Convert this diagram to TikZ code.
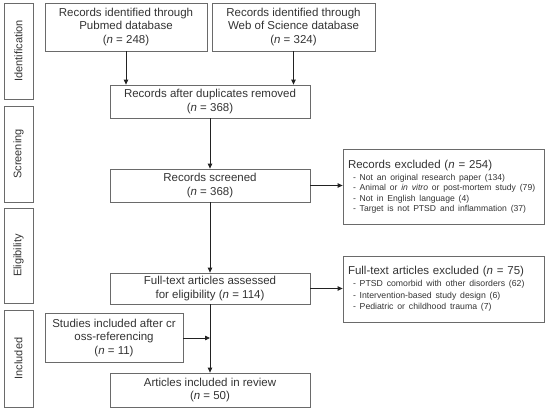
\documentclass[tikz,border=0pt]{standalone}
\usepackage{fontspec}
\setmainfont{Liberation Sans}
\usetikzlibrary{arrows.meta,calc}
\definecolor{frame}{HTML}{6A6A6A}
\definecolor{ink}{HTML}{333333}
\definecolor{wire}{HTML}{222222}
\newcommand{\Mid}{210}
\newcommand{\Left}{4}
\newcommand{\Side}{29}

\begin{document}
\begin{tikzpicture}[x=1pt, y=-1pt, text=ink,
    stagebox/.style={draw=frame, line width=0.8pt, align=center, inner sep=2pt,
      font=\fontsize{11.5}{13.4}\selectfont},
    phasebox/.style={draw=frame, line width=0.8pt, rotate=90, inner sep=0pt,
      minimum height=\Side, font=\fontsize{11}{13}\selectfont},
    exclbox/.style={draw=frame, line width=0.8pt, align=left, inner xsep=5pt,
      text width=191pt, minimum width=201, font=\fontsize{11.5}{13.4}\selectfont},
    flow/.style={wire, line width=0.8pt, -{Triangle[length=5pt, width=4.5pt]}},
  ]
\useasboundingbox (0,0) rectangle (550,410);

% --- Phases down the left side ------------------------------------------------------------
\foreach \name/\y/\len/\txt in {ident/51/96/Identification, screen/154/96/Screening,
    elig/255.5/95/Eligibility, incl/358.5/97/Included} {
  \node[phasebox, minimum width=\len] (phase-\name) at (\Left+\Side/2,\y) {\txt};
}

% --- The flow of records ----------------------------------------------------------------------
\node[stagebox, minimum width=162, minimum height=48] (pubmed) at (126,27)
  {Records identified through\\Pubmed database\\(\textit{n} = 248)};
\node[stagebox, minimum width=163, minimum height=48] (wos) at (293.5,27)
  {Records identified through\\Web of Science database\\(\textit{n} = 324)};
\node[stagebox, minimum width=200, minimum height=33] (dedup) at (\Mid,101.5)
  {Records after duplicates removed\\(\textit{n} = 368)};
\node[stagebox, minimum width=200, minimum height=33] (screened) at (\Mid,185.5)
  {Records screened\\(\textit{n} = 368)};
\node[stagebox, minimum width=200, minimum height=31] (fulltext) at (\Mid,288.5)
  {Full-text articles assessed\\for eligibility (\textit{n} = 114)};
\node[stagebox, minimum width=138, minimum height=49] (crossref) at (114,338)
  {Studies included after cr\\oss-referencing\\(\textit{n} = 11)};
\node[stagebox, minimum width=200, minimum height=34] (review) at (\Mid,390)
  {Articles included in review\\(\textit{n} = 50)};

% --- Exclusions on the right (the closing \par keeps the small line spacing) ---------------------
\node[exclbox, minimum height=75] (excl-rec) at (443.5,186.5)
  {Records excluded (\textit{n} = 254)\\[2pt]\fontsize{8.6}{10.3}\selectfont
   \hspace*{5pt}- Not an original research paper (134)\\
   \hspace*{5pt}- Animal or \textit{in vitro} or post-mortem study (79)\\
   \hspace*{5pt}- Not in English language (4)\\
   \hspace*{5pt}- Target is not PTSD and inflammation (37)\par};
\node[exclbox, minimum height=66] (excl-full) at (443.5,289)
  {Full-text articles excluded (\textit{n} = 75)\\[0.5pt]\fontsize{8.7}{11.5}\selectfont
   \hspace*{5pt}- PTSD comorbid with other disorders (62)\\
   \hspace*{5pt}- Intervention-based study design (6)\\
   \hspace*{5pt}- Pediatric or childhood trauma (7)\par};

% --- Connectors ------------------------------------------------------------------------------------
\draw[flow] (pubmed.south) -- (pubmed.south |- dedup.north);
\draw[flow] (wos.south) -- (wos.south |- dedup.north);
\draw[flow] (dedup) -- (screened);
\draw[flow] (screened) -- (fulltext);
\draw[flow] (fulltext) -- (review);
\draw[flow] (screened.east) -- (screened.east -| excl-rec.west);
\draw[flow] (fulltext.east) -- (fulltext.east -| excl-full.west);
\coordinate (merge) at (fulltext.south |- crossref.east);
\draw[flow] (crossref.east) -- (merge);
\end{tikzpicture}
\end{document}
